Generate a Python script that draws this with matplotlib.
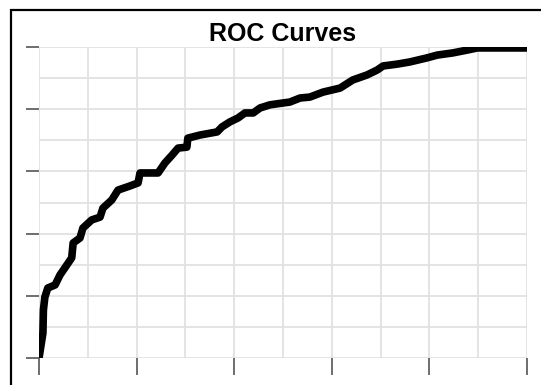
import matplotlib.pyplot as plt
from matplotlib.patches import Rectangle

# ROC-Kurve, Werte
fpr = [0.0, 0.008, 0.009, 0.012, 0.018, 0.033, 0.043, 0.057, 0.067, 0.070,
       0.084, 0.090, 0.108, 0.125, 0.131, 0.149, 0.162, 0.186, 0.203, 0.207,
       0.244, 0.258, 0.273, 0.285, 0.303, 0.305, 0.330, 0.365, 0.375, 0.391,
       0.408, 0.422, 0.439, 0.453, 0.473, 0.500, 0.514, 0.535, 0.555, 0.582,
       0.617, 0.643, 0.672, 0.693, 0.705, 0.734, 0.760, 0.795, 0.816, 0.848,
       0.877, 0.898, 0.918, 1.0]
tpr = [0.0, 0.080, 0.154, 0.196, 0.225, 0.235, 0.267, 0.299, 0.322, 0.370,
       0.386, 0.418, 0.444, 0.453, 0.482, 0.508, 0.540, 0.553, 0.563, 0.595,
       0.595, 0.627, 0.653, 0.675, 0.678, 0.707, 0.717, 0.727, 0.743, 0.759,
       0.772, 0.788, 0.788, 0.804, 0.814, 0.820, 0.823, 0.836, 0.839, 0.855,
       0.868, 0.894, 0.910, 0.926, 0.939, 0.945, 0.952, 0.965, 0.974, 0.981,
       0.990, 0.997, 0.997, 0.997]

major_ticks = [0.0, 0.2, 0.4, 0.6, 0.8, 1.0]
grid_ticks = [i / 10 for i in range(11)]
title = "ROC Curves"

fig = plt.figure(figsize=(5.41, 3.85), dpi=100)
ax = fig.add_axes([0.0721, 0.0701, 0.902, 0.8078])

# Rahmen um die Grafik
fig.patches.append(Rectangle((11 / 541, -0.05), 1.2, 0.974 + 0.05,
                             transform=fig.transFigure, fill=False,
                             edgecolor="black", linewidth=1.6))

ax.plot(fpr, tpr, color="black", linewidth=5.5, solid_joinstyle="round")

ax.set_xlim(0, 1)
ax.set_ylim(0, 1)
ax.set_xticks(major_ticks)
ax.set_yticks(major_ticks)
ax.set_xticks(grid_ticks, minor=True)
ax.set_yticks(grid_ticks, minor=True)
ax.set_xticklabels([])
ax.set_yticklabels([])
ax.tick_params(which="minor", length=0)
ax.tick_params(axis="x", which="major", length=12, width=1.2, color="#555555")
ax.tick_params(axis="y", which="major", length=9.5, width=1.2, color="#555555")
ax.grid(which="both", color="#e2e2e2", linewidth=1.3)
ax.set_axisbelow(True)
for s in ax.spines.values():
    s.set_visible(False)

ax.set_title(title, fontsize=18, fontweight="bold",
             family=["Liberation Sans", "DejaVu Sans"], pad=4)

fig.savefig("out.png", dpi=100)
